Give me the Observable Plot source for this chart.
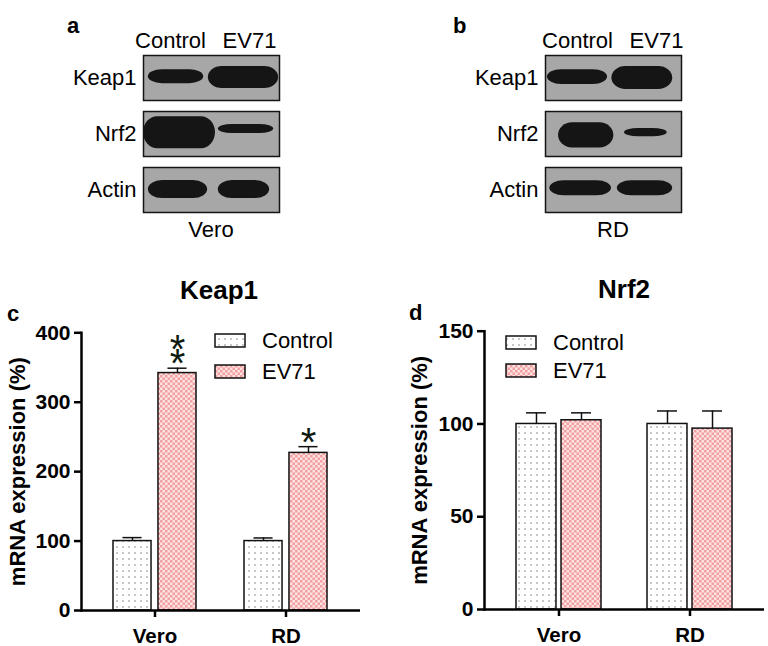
<!DOCTYPE html>
<html>
<head>
<meta charset="utf-8">
<script src="https://cdn.jsdelivr.net/npm/d3@7"></script>
<script src="https://cdn.jsdelivr.net/npm/@observablehq/plot@0.6"></script>
<style>
  body { margin: 0; background: #fff; }
  #fig { position: relative; width: 768px; height: 646px; overflow: hidden; background: #fff; }
  #fig > svg { position: absolute; }
</style>
</head>
<body>
<svg width="0" height="0" style="position:absolute">
  <defs>
    <pattern id="dots" width="6" height="6" patternUnits="userSpaceOnUse">
      <rect width="6" height="6" fill="#ffffff"/>
      <rect x="2.3" y="2.3" width="1.4" height="1.4" fill="#8e8e8e"/>
    </pattern>
    <pattern id="checks" width="5" height="5" patternUnits="userSpaceOnUse">
      <rect width="5" height="5" fill="#fde3e3"/>
      <rect width="2.5" height="2.5" fill="#f19f9f"/>
      <rect x="2.5" y="2.5" width="2.5" height="2.5" fill="#f19f9f"/>
    </pattern>
  </defs>
</svg>
<div id="fig"></div>
<script>
// ---------- data ----------
const lanes = ["Control", "EV71"];
const proteins = ["Keap1", "Nrf2", "Actin"];
const cellLines = ["Vero", "RD"];
const yLabel = "mRNA expression (%)";

// Western blot bands (w: width in lanes, h: thickness as share of strip, shift / c: offsets from lane / strip centre)
const veroBands = [
  {protein: "Keap1", lane: "Control", w: 0.70, h: 0.31, shift: 0.07,   c: 0.03},
  {protein: "Keap1", lane: "EV71",    w: 0.89, h: 0.49, shift: -0.076, c: 0.01},
  {protein: "Nrf2",  lane: "Control", w: 0.91, h: 0.71, shift: 0.114,  c: 0.03},
  {protein: "Nrf2",  lane: "EV71",    w: 0.70, h: 0.20, shift: -0.044, c: 0.11},
  {protein: "Actin", lane: "Control", w: 0.75, h: 0.40, shift: 0.095,  c: 0.01},
  {protein: "Actin", lane: "EV71",    w: 0.65, h: 0.40, shift: -0.07,  c: 0.01}
];
const rdBands = [
  {protein: "Keap1", lane: "Control", w: 0.76, h: 0.33, shift: 0.0,    c: 0.02},
  {protein: "Keap1", lane: "EV71",    w: 0.77, h: 0.51, shift: -0.18,  c: 0.0},
  {protein: "Nrf2",  lane: "Control", w: 0.70, h: 0.56, shift: 0.11,   c: -0.03},
  {protein: "Nrf2",  lane: "EV71",    w: 0.54, h: 0.18, shift: -0.135, c: 0.03},
  {protein: "Actin", lane: "Control", w: 0.78, h: 0.33, shift: 0.04,   c: 0.04},
  {protein: "Actin", lane: "EV71",    w: 0.70, h: 0.33, shift: -0.146, c: 0.04}
];

// qPCR bars (Vero, RD)
const keap1Control = [100, 100];
const keap1ControlErr = [5, 4.5];
const keap1EV71 = [342, 227];
const keap1EV71Err = [7, 9];
const keap1Stars = ["**", "*"];
const keap1Ticks = [0, 100, 200, 300, 400];

const nrf2Control = [100, 100];
const nrf2ControlErr = [6, 7];
const nrf2EV71 = [102, 97.5];
const nrf2EV71Err = [4, 9.5];
const nrf2Stars = ["", ""];
const nrf2Ticks = [0, 50, 100, 150];

// ---------- drawing ----------
const FONT = '"Liberation Sans", Arial, Helvetica, sans-serif';
const fig = document.getElementById("fig");

function place(svg, left, top) {
  svg.style.left = left + "px";
  svg.style.top = top + "px";
  fig.appendChild(svg);
}

function blot(bands, marginLeft, marginRight, xDomain) {
  return Plot.plot({
    width: 384, height: 250,
    marginTop: 54, marginBottom: 38, marginLeft, marginRight,
    style: {fontFamily: FONT, color: "#000", background: "transparent", overflow: "visible"},
    x: {domain: xDomain},
    y: {domain: [-0.5, 0.5], axis: null},
    fy: {domain: proteins, paddingInner: 0.2035, paddingOuter: 0},
    marks: [
      Plot.frame({fill: "#a7a7a7"}),
      Plot.rect(bands, {
        fy: "protein",
        x1: d => lanes.indexOf(d.lane) + 0.5 + d.shift - d.w / 2,
        x2: d => lanes.indexOf(d.lane) + 0.5 + d.shift + d.w / 2,
        y1: d => d.c - d.h / 2,
        y2: d => d.c + d.h / 2,
        fill: "#151515", rx: 14, ry: 40
      }),
      Plot.frame({stroke: "#151515", strokeWidth: 1.5}),
      Plot.axisFy({anchor: "left", tickSize: 0, tickPadding: 7, fontSize: 22, label: null}),
      Plot.axisX({anchor: "top", ticks: lanes.map((_, i) => i + 0.5), tickFormat: v => lanes[Math.floor(v)],
                  tickSize: 0, tickPadding: 8, fontSize: 22, label: null})
    ]
  });
}

function bars({control, controlErr, ev71, ev71Err, stars, yDomain, yTicks,
               marginLeft, marginRight, marginTop, marginBottom, paddingInner, paddingOuter, gap, labelDx}) {
  const rows = cellLines.flatMap((cell, i) => [
    {cell, group: "Control", value: control[i], err: controlErr[i], star: ""},
    {cell, group: "EV71", value: ev71[i], err: ev71Err[i], star: stars[i]}
  ]);
  const ctrl = rows.filter(d => d.group === "Control");
  const ev = rows.filter(d => d.group === "EV71");
  const W = 384 - marginLeft - marginRight;
  const step = W / (cellLines.length - paddingInner + 2 * paddingOuter);
  const bw = step * (1 - paddingInner);
  const barW = (bw - gap) / 2;
  const off = (barW + gap) / 2;
  const capInset = (bw - 20) / 2;
  const bar = {stroke: "#111", strokeWidth: 1.5};
  const err = {strokeWidth: 1.5, stroke: "#111"};
  return Plot.plot({
    width: 384, height: 396, marginLeft, marginRight, marginTop, marginBottom,
    style: {fontFamily: FONT, color: "#000", background: "transparent", overflow: "visible"},
    x: {domain: cellLines, paddingInner, paddingOuter},
    y: {domain: yDomain},
    marks: [
      Plot.barY(ctrl, {x: "cell", y: "value", fill: "url(#dots)", insetRight: barW + gap, ...bar}),
      Plot.barY(ev, {x: "cell", y: "value", fill: "url(#checks)", insetLeft: barW + gap, ...bar}),
      Plot.ruleX(ctrl, {x: "cell", y1: "value", y2: d => d.value + d.err, dx: -off, ...err}),
      Plot.ruleX(ev, {x: "cell", y1: "value", y2: d => d.value + d.err, dx: off, ...err}),
      Plot.tickY(ctrl, {x: "cell", y: d => d.value + d.err, dx: -off, insetLeft: capInset, insetRight: capInset, ...err}),
      Plot.tickY(ev, {x: "cell", y: d => d.value + d.err, dx: off, insetLeft: capInset, insetRight: capInset, ...err}),
      Plot.text(ev.filter(d => d.star), {
        x: "cell", y: d => d.value + d.err, text: d => d.star.split("").join("\n"),
        dx: off, dy: 9, lineAnchor: "bottom", lineHeight: 0.35, fontSize: 40, fill: "#0f1a0f"
      }),
      Plot.frame({anchor: "left", strokeWidth: 2.5, stroke: "#000"}),
      Plot.ruleY([0], {strokeWidth: 2.5}),
      Plot.axisY({ticks: yTicks, tickSize: 7, tickPadding: 4, fontSize: 21, fontWeight: "bold",
                  strokeWidth: 2.5, label: null}),
      Plot.axisX({tickSize: 7, tickPadding: 11, fontSize: 20.5, fontWeight: "bold", strokeWidth: 2.5,
                  label: null}),
      Plot.text([yLabel], {frameAnchor: "left", rotate: -90, dx: labelDx, fontSize: 22, fontWeight: "bold",
                           lineAnchor: "middle", textAnchor: "middle"})
    ]
  });
}

place(blot(veroBands, 143, 105, [0.158, 1.88]), 0, 0);
place(blot(rdBands, 161, 87, [0.095, 1.816]), 384, 0);

place(bars({control: keap1Control, controlErr: keap1ControlErr, ev71: keap1EV71, ev71Err: keap1EV71Err,
            stars: keap1Stars, yDomain: [0, 400], yTicks: keap1Ticks,
            marginLeft: 81, marginRight: 24, marginTop: 82.3, marginBottom: 36,
            paddingInner: 0.364, paddingOuter: 0.239, gap: 6, labelDx: -64}), 0, 250);
place(bars({control: nrf2Control, controlErr: nrf2ControlErr, ev71: nrf2EV71, ev71Err: nrf2EV71Err,
            stars: nrf2Stars, yDomain: [0, 150], yTicks: nrf2Ticks,
            marginLeft: 100, marginRight: 4, marginTop: 80.7, marginBottom: 37,
            paddingInner: 0.351, paddingOuter: 0.244, gap: 5, labelDx: -65}), 384, 250);

// ---------- titles, panel letters, captions, legends ----------
const ov = d3.create("svg").attr("width", 768).attr("height", 646)
  .style("left", "0px").style("top", "0px").style("pointer-events", "none")
  .attr("font-family", FONT);
function label(t, x, y, size, weight, anchor) {
  ov.append("text").attr("x", x).attr("y", y).attr("font-size", size)
    .attr("font-weight", weight).attr("text-anchor", anchor).attr("fill", "#000").text(t);
}
label("a", 67, 33, 22, "bold", "start");
label("b", 453, 33, 22, "bold", "start");
label("Vero", 211, 237, 22, "normal", "middle");
label("RD", 613, 237, 22, "normal", "middle");
label("Keap1", 219, 299, 26, "bold", "middle");
label("Nrf2", 624, 298, 26, "bold", "middle");
label("c", 7, 321, 22, "bold", "start");
label("d", 409, 320, 22, "bold", "start");

function legend(x, yTop1, yTop2, tx) {
  [["dots", "Control", yTop1], ["checks", "EV71", yTop2]].forEach(([pat, name, y]) => {
    ov.append("rect").attr("x", x).attr("y", y).attr("width", 30).attr("height", 13)
      .attr("fill", `url(#${pat})`).attr("stroke", "#111").attr("stroke-width", 1.5);
    label(name, tx, y + 13.5, 22, "normal", "start");
  });
}
legend(215, 334, 365, 262);
legend(506, 336, 364, 553);
fig.appendChild(ov.node());
</script>
</body>
</html>
